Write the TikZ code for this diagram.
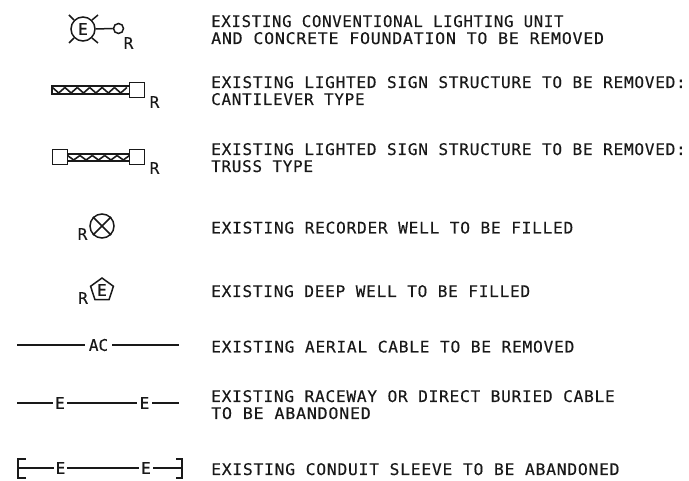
\documentclass[tikz,border=0pt]{standalone}
\usepackage{graphicx}
\usepackage{fontspec}
\usetikzlibrary{shapes.geometric}
\setmainfont[LetterSpace=4.3,FakeBold=0.3]{DejaVu Sans Mono}
\newfontfamily\symfont[FakeBold=0.3]{DejaVu Sans Mono}
\newcommand{\capsize}{\fontsize{16}{16}\selectfont}
\newcommand{\sx}[2]{\scalebox{#1}[1]{#2}}
\definecolor{ink}{gray}{0.1}
\tikzset{
  x=1pt,y=-1pt,
  desc/.style={anchor=base west,inner sep=0pt,font=\capsize,text=ink},
  sym/.style={anchor=center,inner sep=0pt,font=\symfont\capsize,text=ink},
  gapped/.style={sym,minimum width=#1,minimum height=12},
  wire/.style={draw=ink,line width=1.5pt},
  box/.style={draw=ink,line width=1.5pt,fill=white,minimum size=15,inner sep=0pt}
}
% \truss{x1}{x2}{y}{half height}
\newcommand{\truss}[4]{%
  \fill[ink] (#1,#3-#4) rectangle (#2,#3+#4);
  \fill[white] (#1+1.5,#3-#4+2.5) rectangle (#2,#3+#4-2);
  \pgfmathsetmacro{\per}{6.2}
  \pgfmathtruncatemacro{\cnt}{(#2-#1-1.5)/\per}
  \foreach \i in {1,...,\cnt}{
    \pgfmathsetmacro{\xa}{#1+1.5+(\i-1)*\per}
    \pgfmathsetmacro{\xb}{#1+1.5+\i*\per}
    \pgfmathsetmacro{\ya}{ifthenelse(mod(\i,2)==1,#3-#4+2.5,#3+#4-2)}
    \pgfmathsetmacro{\yb}{ifthenelse(mod(\i,2)==1,#3+#4-2,#3-#4+2.5)}
    \draw[ink,line width=1.6pt] (\xa,\ya) -- (\xb,\yb);
  }
}
\begin{document}
\begin{tikzpicture}
\useasboundingbox (0,0) rectangle (689,481);
% symbol 1
\node[sym,circle,draw=ink,line width=1.5pt,minimum size=24] (lamp) at (83,29) {E};
\draw[wire] (lamp.45) -- (98,15);
\draw[wire] (lamp.135) -- (69,15);
\draw[wire] (lamp.225) -- (69,43);
\draw[wire] (lamp.315) -- (98,43);
\node[circle,draw=ink,line width=1.5pt,minimum size=10,inner sep=0pt] (pole) at (118.5,28.5) {};
\draw[wire] (lamp.east) -- (pole.west);
\node[sym] (r1) at (128.5,43) {R};
% symbol 2
\truss{51}{130}{90}{5}
\node[box] (s2) at (137,90) {};
\node[sym] (r2) at (154.5,102) {R};
% symbol 3
\truss{66}{130}{157.5}{4.5}
\node[box] (s3a) at (60,157) {};
\node[box] (s3b) at (137,157) {};
\node[sym] (r3) at (154.5,168) {R};
% symbol 4
\node[circle,draw=ink,line width=1.5pt,minimum size=24,inner sep=0pt] (well) at (102,226) {};
\draw[wire] (well.45) -- (well.225);
\draw[wire] (well.135) -- (well.315);
\node[sym] (r4) at (82.5,234) {R};
% symbol 5
\node[sym,regular polygon,regular polygon sides=5,draw=ink,line width=1.5pt,minimum size=24] (deep) at (102,290) {E};
\node[sym] (r5) at (83,298) {R};
% symbol 6
\node[gapped=27] (ac) at (98.5,345) {AC};
\coordinate (a1) at (17,345); \coordinate (a2) at (179,345);
\draw[wire] (a1) -- (ac.west);
\draw[wire] (ac.east) -- (a2);
% symbol 7
\node[gapped=14] (e1) at (60,403) {E};
\node[gapped=15] (e2) at (144.5,403) {E};
\coordinate (b1) at (17,403); \coordinate (b2) at (179,403);
\draw[wire] (b1) -- (e1.west);
\draw[wire] (e1.east) -- (e2.west);
\draw[wire] (e2.east) -- (b2);
% symbol 8
\node[gapped=13] (e3) at (60.5,468) {E};
\node[gapped=14] (e4) at (146,468) {E};
\coordinate (c1) at (18,468); \coordinate (c2) at (182,468);
\draw[wire] (c1) -- (e3.west);
\draw[wire] (e3.east) -- (e4.west);
\draw[wire] (e4.east) -- (c2);
\draw[wire] ([xshift=8,yshift=-10]c1) -| (c1) |- ([xshift=8,yshift=9]c1);
\draw[wire] ([xshift=-6,yshift=-10]c2) -| (c2) |- ([xshift=-6,yshift=9]c2);
% text
\node[desc] (t1) at (211,27) {\sx{0.983}{EXISTING CONVENTIONAL LIGHTING UNIT}};
\node[desc] (t2) at (211,44) {\sx{1.04}{AND CONCRETE FOUNDATION TO BE REMOVED}};
\node[desc] (t3) at (211,88) {\sx{1.01}{EXISTING LIGHTED SIGN STRUCTURE TO BE REMOVED:}};
\node[desc] (t4) at (211,105) {CANTILEVER TYPE};
\node[desc] (t5) at (211,155) {\sx{1.01}{EXISTING LIGHTED SIGN STRUCTURE TO BE REMOVED:}};
\node[desc] (t6) at (211,172) {TRUSS TYPE};
\node[desc] (t7) at (211,233.5) {\sx{1.014}{EXISTING RECORDER WELL TO BE FILLED}};
\node[desc] (t8) at (211,297) {\sx{1.01}{EXISTING DEEP WELL TO BE FILLED}};
\node[desc] (t9) at (211,352.5) {\sx{1.017}{EXISTING AERIAL CABLE TO BE REMOVED}};
\node[desc] (t10) at (211,402) {\sx{1.013}{EXISTING RACEWAY OR DIRECT BURIED CABLE}};
\node[desc] (t11) at (211,419) {\sx{1.045}{TO BE ABANDONED}};
\node[desc] (t12) at (211,475) {\sx{1.025}{EXISTING CONDUIT SLEEVE TO BE ABANDONED}};
\end{tikzpicture}
\end{document}
